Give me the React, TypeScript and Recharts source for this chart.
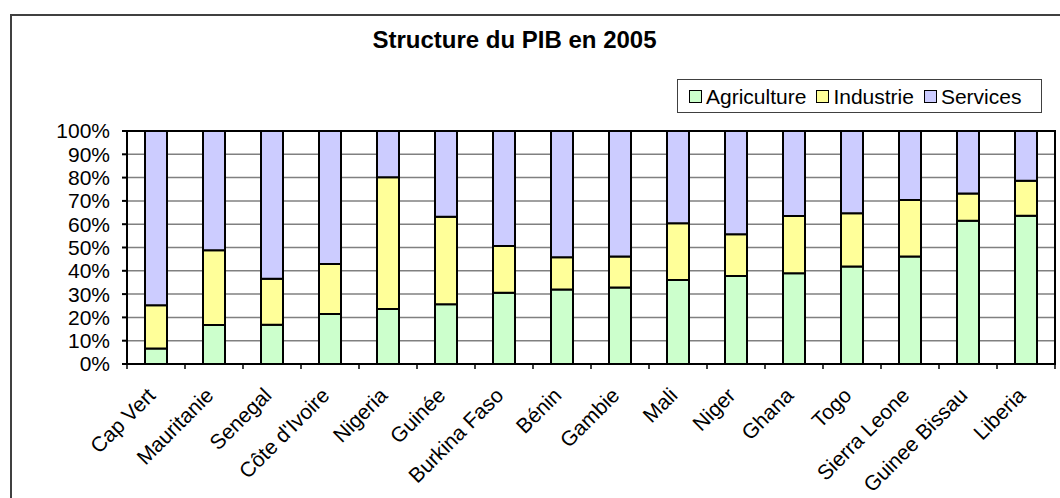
import React from "react";
import { BarChart, Bar, XAxis, YAxis, CartesianGrid, ReferenceArea } from "recharts";

const categories = [
  "Cap Vert", "Mauritanie", "Senegal", "Côte d'Ivoire", "Nigeria", "Guinée",
  "Burkina Faso", "Bénin", "Gambie", "Mali", "Niger", "Ghana", "Togo",
  "Sierra Leone", "Guinee Bissau", "Liberia",
];
const agriculture = [6.7, 16.7, 16.8, 21.5, 23.6, 25.6, 30.6, 32.0, 32.8, 36.1, 37.8, 38.9, 41.8, 46.1, 61.5, 63.6];
const industrie = [18.5, 32.1, 19.8, 21.4, 56.5, 37.6, 20.0, 13.8, 13.3, 24.3, 17.9, 24.6, 22.9, 24.3, 11.7, 15.1];
const services = [74.8, 51.2, 63.4, 57.1, 19.9, 36.8, 49.4, 54.2, 53.9, 39.6, 44.3, 36.5, 35.3, 29.6, 26.8, 21.3];
const yTicks = [0, 0.1, 0.2, 0.3, 0.4, 0.5, 0.6, 0.7, 0.8, 0.9, 1];
const seriesNames = ["Agriculture", "Industrie", "Services"];
const seriesColors = ["#CCFFCC", "#FFFF99", "#CCCCFF"];

const data = categories.map((c, i) => ({
  name: c,
  Agriculture: agriculture[i],
  Industrie: industrie[i],
  Services: services[i],
}));

const FONT = "'Liberation Sans', Arial, sans-serif";
const CHART_W = 1060;
const CHART_H = 498;
const MARGIN = { top: 131, right: 5, bottom: 0, left: 0 };
const Y_W = 127;
const X_H = 134;
const BAND = (CHART_W - MARGIN.left - MARGIN.right - Y_W) / categories.length;

const XTick = (props: any) => {
  const { x, y, payload, index } = props;
  const half = BAND / 2;
  return (
    <g>
      <line x1={x - half} x2={x - half} y1={y} y2={y + 5} stroke="#000" strokeWidth={1.5} />
      {index === categories.length - 1 && (
        <line x1={x + half} x2={x + half} y1={y} y2={y + 5} stroke="#000" strokeWidth={1.5} />
      )}
      <text
        transform={`translate(${x - 10},${y + 22}) rotate(-45)`}
        textAnchor="end"
        dominantBaseline="hanging"
        fontSize={21}
        fontFamily={FONT}
        fill="#000"
      >
        {payload.value}
      </text>
    </g>
  );
};

export default function App() {
  return (
    <div style={{ position: "absolute", left: 0, top: 0, width: CHART_W, height: CHART_H, overflow: "hidden", background: "#fff" }}>
      <div
        style={{
          position: "absolute", left: 10, top: 14, width: 1100, height: 600,
          border: "2px solid #404040", boxSizing: "border-box",
        }}
      />
      <div
        style={{
          position: "absolute", left: 0, top: 28, width: 1029, textAlign: "center",
          fontFamily: FONT, fontWeight: "bold", fontSize: 24, lineHeight: "24px", color: "#000",
        }}
      >
        Structure du PIB en 2005
      </div>
      <div
        style={{
          position: "absolute", left: 677, top: 79, width: 365, height: 34,
          border: "1px solid #404040", boxSizing: "border-box",
          display: "flex", alignItems: "center", paddingLeft: 11,
          fontFamily: FONT, fontSize: 21, color: "#000",
        }}
      >
        {seriesNames.map((n, i) => (
          <div key={n} style={{ display: "flex", alignItems: "center", marginRight: 10 }}>
            <span
              style={{
                display: "inline-block", width: 13, height: 13, boxSizing: "border-box",
                border: "1.5px solid #000", background: seriesColors[i], marginRight: 4,
              }}
            />
            <span style={{ lineHeight: "21px" }}>{n}</span>
          </div>
        ))}
      </div>
      <div style={{ position: "absolute", left: 0, top: 0 }}>
        <BarChart width={CHART_W} height={CHART_H} data={data} margin={MARGIN} stackOffset="expand" barCategoryGap={0}>
          <CartesianGrid vertical={false} stroke="#808080" strokeWidth={1.5} />
          <XAxis
            dataKey="name"
            height={X_H}
            interval={0}
            tickSize={0}
            tickMargin={0}
            tickLine={false}
            axisLine={{ stroke: "#000", strokeWidth: 2 }}
            tick={<XTick />}
          />
          <YAxis
            width={Y_W}
            domain={[0, 1]}
            ticks={yTicks}
            interval={0}
            tickFormatter={(v: number) => `${Math.round(v * 100)}%`}
            tickSize={5}
            tickMargin={12}
            tickLine={{ stroke: "#000", strokeWidth: 2 }}
            axisLine={{ stroke: "#000", strokeWidth: 2 }}
            tick={{ fill: "#000", fontSize: 21, fontFamily: FONT }}
          />
          {seriesNames.map((n, i) => (
            <Bar
              key={n}
              dataKey={n}
              stackId="a"
              fill={seriesColors[i]}
              stroke="#000"
              strokeWidth={2}
              barSize={22}
              isAnimationActive={false}
            />
          ))}
          <ReferenceArea y1={0} y2={1} fill="none" fillOpacity={0} stroke="#000" strokeWidth={2} ifOverflow="visible" />
        </BarChart>
      </div>
    </div>
  );
}
